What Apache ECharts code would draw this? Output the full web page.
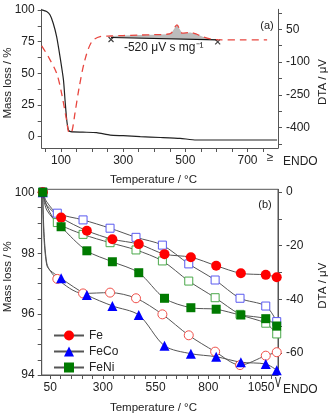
<!DOCTYPE html>
<html>
<head>
<meta charset="utf-8">
<script src="https://cdn.jsdelivr.net/npm/echarts@6/dist/echarts.min.js"></script>
<style>
html, body { margin: 0; padding: 0; background: #fff; }
#chart { width: 328px; height: 413px; }
</style>
</head>
<body>
<div id="chart"></div>
<script>
// (a) TG / DTA of the precursor
var massTempA = [38, 54, 65, 75, 86, 97, 108, 113, 118.5, 124, 131, 170, 215, 258, 300, 355, 420, 483, 535, 600, 700, 795];
var massLossA = [100, 98.7, 96, 89.5, 79, 63, 44.8, 29, 13.2, 5.3, 4, 3.6, 3.2, 1.3, 0.8, 0, -0.6, -1.3, -2.6, -2.6, -2.6, -2.6];
var dtaTempA = [38, 59, 86, 102, 118, 127, 135, 145, 159, 177, 199, 226, 261, 300, 350, 400, 440, 455, 473, 490, 516, 537, 556, 580, 604, 680, 763];
var dtaValA = [-26, -75, -151, -243, -365, -425, -418, -334, -212, -90, -7, 16, 19, 21, 23, 25, 27, 33, 70, 32, 35, 27, 15, 6, 2, 1, 1];
var baseTempA = [261, 604];
var baseValA = [12, 1];

// (b) samples, mass loss (filled) and DTA (open)
var tempB = [15, 34, 102, 224, 345, 470, 592, 717, 837, 954, 1072, 1124];
var tempOpenB = [15, 34, 84, 206, 334, 457, 582, 707, 832, 950, 1072, 1124];
var feMass = [100, 99.58, 99.17, 98.74, 98.46, 98.30, 97.97, 97.87, 97.59, 97.34, 97.29, 97.21];
var fecoMass = [100, 97.61, 97.18, 96.63, 96.27, 95.97, 94.96, 94.70, 94.60, 94.42, 94.36, 94.16];
var feniMass = [100, 99.42, 98.87, 98.08, 97.72, 97.36, 96.52, 96.21, 96.16, 95.97, 95.85, 95.61];
var feDta = [0, -26.5, -32.4, -37.8, -37.5, -39.6, -45.6, -53.4, -59.5, -64.5, -61.0, -59.7];
var fecoDta = [0, -3.7, -7.9, -10.4, -13.5, -16.9, -19.8, -26.8, -32.8, -39.6, -42.5, -48.3];
var feniDta = [0, -5.2, -11.4, -15.8, -18.9, -21.6, -25.7, -33.2, -39.4, -45.6, -48.9, -52.9];

// ticks / labels
var xTicksA = [50, 100, 150, 200, 250, 300, 350, 400, 450, 500, 550, 600, 650, 700, 750];
var xLabelsA = [100, 300, 500, 700];
var massTicksA = [0, 12.5, 25, 37.5, 50, 62.5, 75, 87.5, 100];
var massLabelsA = [0, 25, 50, 75, 100];
var dtaTicksA = [125, 50, -25, -100, -175, -250, -325, -400, -475];
var dtaLabelsA = [50, -100, -250, -400];
var xTicksB = [50, 100, 150, 200, 250, 300, 350, 400, 450, 500, 550, 600, 650, 700, 750, 800, 850, 900, 950, 1000, 1050, 1100];
var xLabelsB = [50, 300, 550, 800, 1050];
var massTicksB = [94, 94.5, 95, 95.5, 96, 96.5, 97, 97.5, 98, 98.5, 99, 99.5, 100];
var massLabelsB = [94, 96, 98, 100];
var dtaTicksB = [0, -10, -20, -30, -40, -50, -60];
var dtaLabelsB = [0, -20, -40, -60];

var FONT = '"Liberation Sans", Arial, sans-serif';
var AXIS_COLOR = '#555';
var TEXT_COLOR = '#222';
var LINE_GRAY = '#555';

function pts(xs, ys) {
    return xs.map(function (x, i) { return [x, ys[i]]; });
}

// second point only shapes the curve, no marker there
function markerPts(xs, ys) {
    return xs.map(function (x, i) {
        return i === 1 ? {value: [x, ys[i]], symbol: 'none'} : [x, ys[i]];
    });
}

function axisStyle(ticks, labels, margin) {
    return {
        axisLine: {show: true, onZero: false, lineStyle: {color: AXIS_COLOR, width: 1}},
        axisTick: {show: true, length: 4, customValues: ticks, lineStyle: {color: AXIS_COLOR}},
        axisLabel: {
            customValues: labels, color: TEXT_COLOR, fontSize: 12, fontFamily: FONT, margin: margin,
            formatter: function (v) { return String(v); }
        },
        splitLine: {show: false}
    };
}

function makeAxis(base, extra) {
    var o = {};
    for (var k in base) o[k] = base[k];
    for (var j in extra) o[j] = extra[j];
    return o;
}

// gray area between DTA curve and baseline
var peakPoly = pts(dtaTempA, dtaValA).filter(function (p) {
    return p[0] >= baseTempA[0] && p[0] <= baseTempA[1];
}).concat([[baseTempA[1], baseValA[1]], [baseTempA[0], baseValA[0]]]);

var chart = echarts.init(document.getElementById('chart'));

var option = {
    animation: false,
    backgroundColor: '#fff',
    grid: [
        {left: 41.7, right: 50, top: 9.3, height: 138.7},
        {left: 41.7, right: 50, top: 189.3, height: 185.7, show: true, borderColor: AXIS_COLOR, borderWidth: 1}
    ],
    xAxis: [
        makeAxis(axisStyle(xTicksA, xLabelsA, 7), {type: 'value', gridIndex: 0, min: 38, max: 798}),
        makeAxis(axisStyle(xTicksB, xLabelsB, 7), {type: 'value', gridIndex: 1, min: 10, max: 1130})
    ],
    yAxis: [
        makeAxis(axisStyle(massTicksA, massLabelsA, 7), {type: 'value', gridIndex: 0, position: 'left', min: -8.9, max: 100.5}),
        makeAxis(axisStyle(dtaTicksA, dtaLabelsA, 8), {type: 'value', gridIndex: 0, position: 'right', min: -493, max: 141}),
        makeAxis(axisStyle(massTicksB, massLabelsB, 7), {type: 'value', gridIndex: 1, position: 'left', min: 94, max: 100.1}),
        makeAxis(axisStyle(dtaTicksB, dtaLabelsB, 8), {type: 'value', gridIndex: 1, position: 'right', min: -68.2, max: 1})
    ],
    legend: {
        data: ['Fe', 'FeCo', 'FeNi'],
        orient: 'vertical',
        left: 48,
        top: 324.5,
        itemWidth: 30,
        itemHeight: 12.5,
        itemGap: 4,
        textStyle: {color: TEXT_COLOR, fontSize: 12, fontFamily: FONT}
    },
    series: [
        {
            type: 'custom',
            xAxisIndex: 0,
            yAxisIndex: 1,
            data: peakPoly,
            encode: {x: 0, y: 1},
            silent: true,
            renderItem: function (params, api) {
                if (params.dataIndex !== 0) return null;
                return {
                    type: 'polygon',
                    shape: {points: peakPoly.map(function (p) { return api.coord(p); })},
                    style: {fill: '#bcbcbc'}
                };
            }
        },
        {
            type: 'line',
            xAxisIndex: 0,
            yAxisIndex: 0,
            data: pts(massTempA, massLossA),
            symbol: 'none',
            smooth: 0.2,
            lineStyle: {color: '#222', width: 1.2}
        },
        {
            type: 'line',
            xAxisIndex: 0,
            yAxisIndex: 1,
            data: pts(baseTempA, baseValA),
            symbol: 'none',
            lineStyle: {color: '#111', width: 1.2}
        },
        {
            type: 'line',
            xAxisIndex: 0,
            yAxisIndex: 1,
            data: pts(dtaTempA, dtaValA),
            symbol: 'none',
            smooth: 0.3,
            lineStyle: {color: '#e8463f', width: 1.3, type: [7, 5]}
        },
        {
            type: 'scatter',
            xAxisIndex: 0,
            yAxisIndex: 1,
            data: pts(baseTempA, baseValA),
            symbol: 'path://M0,0L10,10M10,0L0,10',
            symbolSize: 5,
            symbolOffset: [0, 2],
            itemStyle: {color: 'none', borderColor: '#111', borderWidth: 1.2}
        },
        // (b)
        {
            name: 'Fe (DTA)', type: 'line', xAxisIndex: 1, yAxisIndex: 3,
            data: markerPts(tempOpenB, feDta), smooth: 0.3,
            symbol: 'circle', symbolSize: 9,
            lineStyle: {color: LINE_GRAY, width: 1},
            itemStyle: {color: '#fff', borderColor: '#f0504a', borderWidth: 1}
        },
        {
            name: 'FeCo (DTA)', type: 'line', xAxisIndex: 1, yAxisIndex: 3,
            data: markerPts(tempOpenB, fecoDta), smooth: 0.3,
            symbol: 'rect', symbolSize: 8,
            lineStyle: {color: LINE_GRAY, width: 1},
            itemStyle: {color: '#fff', borderColor: '#5a5af0', borderWidth: 1}
        },
        {
            name: 'FeNi (DTA)', type: 'line', xAxisIndex: 1, yAxisIndex: 3,
            data: markerPts(tempOpenB, feniDta), smooth: 0.3,
            symbol: 'rect', symbolSize: 8,
            lineStyle: {color: LINE_GRAY, width: 1},
            itemStyle: {color: '#fff', borderColor: '#4aa84a', borderWidth: 1}
        },
        {
            name: 'Fe', type: 'line', xAxisIndex: 1, yAxisIndex: 2,
            data: markerPts(tempB, feMass), smooth: 0.3,
            symbol: 'circle', symbolSize: 10,
            lineStyle: {color: LINE_GRAY, width: 1},
            itemStyle: {color: '#ff0000'}
        },
        {
            name: 'FeCo', type: 'line', xAxisIndex: 1, yAxisIndex: 2,
            data: markerPts(tempB, fecoMass), smooth: 0.3,
            symbol: 'triangle', symbolSize: 10,
            lineStyle: {color: LINE_GRAY, width: 1},
            itemStyle: {color: '#0000ff'}
        },
        {
            name: 'FeNi', type: 'line', xAxisIndex: 1, yAxisIndex: 2,
            data: markerPts(tempB, feniMass), smooth: 0.3,
            symbol: 'rect', symbolSize: 9,
            lineStyle: {color: LINE_GRAY, width: 1},
            itemStyle: {color: '#007a00'}
        }
    ],
    graphic: [
        {type: 'text', x: 7.5, y: 83, rotation: Math.PI / 2,
            style: {text: 'Mass loss / %', font: '11.5px ' + FONT, fill: TEXT_COLOR, textAlign: 'center', textVerticalAlign: 'middle'}},
        {type: 'text', x: 323, y: 82, rotation: Math.PI / 2,
            style: {text: 'DTA / μV', font: '11.5px ' + FONT, fill: TEXT_COLOR, textAlign: 'center', textVerticalAlign: 'middle'}},
        {type: 'text', x: 153.5, y: 180,
            style: {text: 'Temperature / °C', font: '11.5px ' + FONT, fill: TEXT_COLOR, textAlign: 'center', textVerticalAlign: 'middle'}},
        {type: 'text', x: 7.5, y: 276.7, rotation: Math.PI / 2,
            style: {text: 'Mass loss / %', font: '11.5px ' + FONT, fill: TEXT_COLOR, textAlign: 'center', textVerticalAlign: 'middle'}},
        {type: 'text', x: 323, y: 285.7, rotation: Math.PI / 2,
            style: {text: 'DTA / μV', font: '11.5px ' + FONT, fill: TEXT_COLOR, textAlign: 'center', textVerticalAlign: 'middle'}},
        {type: 'text', x: 153.5, y: 408.3,
            style: {text: 'Temperature / °C', font: '11.5px ' + FONT, fill: TEXT_COLOR, textAlign: 'center', textVerticalAlign: 'middle'}},
        {type: 'text', x: 267, y: 26,
            style: {text: '(a)', font: '11px ' + FONT, fill: TEXT_COLOR, textAlign: 'center', textVerticalAlign: 'middle'}},
        {type: 'text', x: 265, y: 205,
            style: {text: '(b)', font: '11px ' + FONT, fill: TEXT_COLOR, textAlign: 'center', textVerticalAlign: 'middle'}},
        {type: 'text', x: 163.7, y: 47.7,
            style: {text: '-520 μV s mg⁻¹', font: '12px ' + FONT, fill: TEXT_COLOR, textAlign: 'center', textVerticalAlign: 'middle'}},
        {type: 'text', x: 270, y: 158,
            style: {text: '≥', font: '12px ' + FONT, fill: TEXT_COLOR, textAlign: 'center', textVerticalAlign: 'middle'}},
        {type: 'text', x: 283, y: 161.7,
            style: {text: 'ENDO', font: '12px ' + FONT, fill: TEXT_COLOR, textAlign: 'left', textVerticalAlign: 'middle'}},
        {type: 'polyline', shape: {points: [[275.5, 377], [278, 387], [280.5, 377]]},
            style: {stroke: '#333', lineWidth: 1, fill: null}},
        {type: 'text', x: 283, y: 389.3,
            style: {text: 'ENDO', font: '12px ' + FONT, fill: TEXT_COLOR, textAlign: 'left', textVerticalAlign: 'middle'}}
    ]
};

chart.setOption(option);
window.onresize = chart.resize;
</script>
</body>
</html>
